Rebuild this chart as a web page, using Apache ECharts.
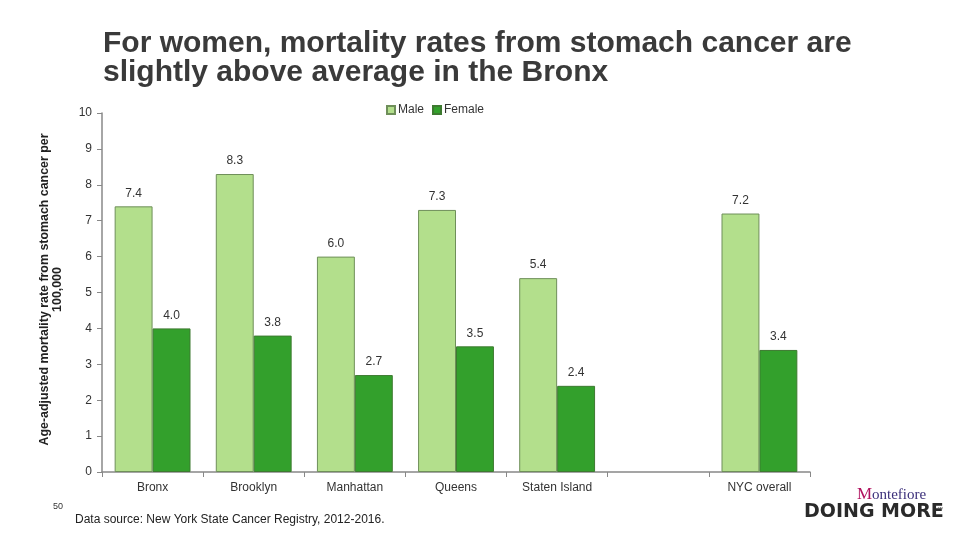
<!DOCTYPE html>
<html><head><meta charset="utf-8">
<script src="https://cdn.jsdelivr.net/npm/echarts@6/dist/echarts.min.js"></script>
<style>html,body{margin:0;padding:0;background:#fff}#c{width:960px;height:540px}</style>
</head><body><div id="c"></div>
<script>
const categories = ['Bronx', 'Brooklyn', 'Manhattan', 'Queens', 'Staten Island', '', 'NYC overall'];
const maleValues = [7.4, 8.3, 6.0, 7.3, 5.4, null, 7.2];
const femaleValues = [4.0, 3.8, 2.7, 3.5, 2.4, null, 3.4];
const yTicks = [0, 1, 2, 3, 4, 5, 6, 7, 8, 9, 10];

const chart = echarts.init(document.getElementById('c'), null, {renderer: 'canvas'});
const F = 'Liberation Sans, Arial, sans-serif';
const lbl = {show: true, position: 'top', distance: 7, color: '#333', fontFamily: F, fontSize: 12,
  formatter: p => p.value == null ? '' : Number(p.value).toFixed(1)};
chart.setOption({
  animation: false,
  textStyle: {fontFamily: F},
  title: {
    text: 'For women, mortality rates from stomach cancer are\nslightly above average in the Bronx',
    left: 98, top: 24,
    textStyle: {fontFamily: F, fontSize: 30, fontWeight: 'bold', color: '#3a3a3a', lineHeight: 29}
  },
  legend: {
    data: ['Male', 'Female'], left: 381, top: 99, itemWidth: 8, itemHeight: 8, itemGap: 8, icon: 'rect',
    textStyle: {fontFamily: F, fontSize: 12, color: '#333', padding: [0, 0, 0, -2]}
  },
  grid: {left: 102, right: 150, top: 113, bottom: 68, containLabel: false},
  xAxis: {
    type: 'category', data: categories,
    axisLine: {lineStyle: {color: '#888', width: 1.5}},
    axisTick: {show: true, length: 5, lineStyle: {color: '#888'}, alignWithLabel: false},
    axisLabel: {color: '#333', fontSize: 12, fontFamily: F, margin: 10}
  },
  yAxis: {
    type: 'value', min: 0, max: 10, interval: 1,
    name: 'Age-adjusted mortality rate from stomach cancer per\n100,000',
    nameLocation: 'middle', nameGap: 38, nameRotate: 90,
    nameTextStyle: {fontFamily: F, fontSize: 12.4, fontWeight: 'bold', color: '#222', lineHeight: 13, padding: [0, 0, 0, 6]},
    axisLine: {show: true, lineStyle: {color: '#888', width: 1.5}},
    axisTick: {show: true, length: 5, lineStyle: {color: '#888'}},
    axisLabel: {color: '#333', fontSize: 12, fontFamily: F, margin: 10,
      formatter: v => yTicks.includes(v) ? String(v) : ''},
    splitLine: {show: false}
  },
  series: [
    {name: 'Male', type: 'bar', data: maleValues, barGap: '0%', barCategoryGap: '25%',
     itemStyle: {color: '#b3df8c', borderColor: '#6f8f5a', borderWidth: 1}, label: lbl},
    {name: 'Female', type: 'bar', data: femaleValues,
     itemStyle: {color: '#33a02c', borderColor: '#3d7a30', borderWidth: 1}, label: lbl}
  ],
  graphic: [
    {type: 'text', left: 53, top: 502, style: {text: '50', fontFamily: F, fontSize: 9, fill: '#333'}},
    {type: 'text', left: 75, top: 514, style: {text: 'Data source: New York State Cancer Registry, 2012-2016.', fontFamily: F, fontSize: 12, fill: '#222'}},
    {type: 'text', left: 857, top: 486, style: {text: 'M', fontFamily: 'Liberation Serif, serif', fontSize: 17, fill: '#b0125f'}},
    {type: 'text', left: 872, top: 488, style: {text: 'ontefiore', fontFamily: 'Liberation Serif, serif', fontSize: 15, fill: '#3b2f7a'}},
    {type: 'text', left: 804, top: 503, style: {text: 'DOING MORE', fontFamily: 'DejaVu Sans, sans-serif', fontSize: 19, fontWeight: 'bold', fill: '#2a2a2a'}},
    {type: 'text', left: 937, top: 506, style: {text: '™', fontFamily: F, fontSize: 6, fill: '#555'}}
  ]
});
</script></body></html>
